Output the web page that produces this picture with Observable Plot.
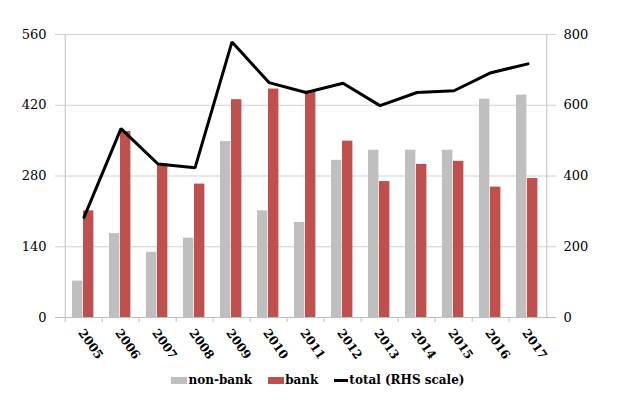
<!DOCTYPE html>
<html><head><meta charset="utf-8">
<script src="https://cdn.jsdelivr.net/npm/d3@7"></script>
<script src="https://cdn.jsdelivr.net/npm/@observablehq/plot@0.6"></script>
<style>
body{margin:0;background:#fff;font-family:"DejaVu Serif",serif;}
#legend{height:30px;display:flex;justify-content:center;align-items:center;font-weight:bold;font-size:12px;color:#000;padding-left:12px;width:612px;}
.item{display:inline-flex;align-items:center;margin:0 8px;}
.sw{display:inline-block;width:16px;height:7px;margin-right:1px;}
.ln{display:inline-block;width:14px;height:3px;background:#000;margin-right:1px;}
</style></head><body>
<div id="chart"></div>
<div id="legend">
  <span class="item"><span class="sw" style="background:#bfbfbf"></span>non-bank</span>
  <span class="item"><span class="sw" style="background:#c0504d"></span>bank</span>
  <span class="item"><span class="ln"></span>total (RHS scale)</span>
</div>
<script>
const years = ["2005","2006","2007","2008","2009","2010","2011","2012","2013","2014","2015","2016","2017"];
const nonBank = [72,166,129,157,348,211,188,311,331,331,331,432,440];
const bank = [211,368,304,264,431,452,448,349,269,303,309,258,275];
const total = [283,534,434,423,779,664,636,662,599,636,641,692,717];
const leftTicks = [0,140,280,420,560];
const rightTicks = [0,200,400,600,800];
const leftMax = 560, rightMax = 800;
const ratio = leftMax / rightMax;

const W = 624, H = 365;
const mL = 61, mR = 74, mT = 34, mB = 48;
const bw = (W - mL - mR) / years.length;
const grey = "#bfbfbf";
const serif = "DejaVu Serif";

const chart = Plot.plot({
  width: W, height: H,
  marginLeft: mL, marginRight: mR, marginTop: mT, marginBottom: mB,
  style: {fontFamily: serif, fontSize: "13px", color: "#000", background: "#fff"},
  x: {type: "band", domain: years, padding: 0},
  y: {domain: [0, leftMax]},
  marks: [
    Plot.ruleY(leftTicks.slice(1), {stroke: "#d0d0d0", strokeWidth: 1, insetLeft: -6, insetRight: -6}),
    Plot.ruleY([0], {stroke: grey, strokeWidth: 1, insetLeft: -6, insetRight: -6}),
    Plot.ruleX([years[0]], {y1: 0, y2: leftMax, stroke: grey, dx: -bw / 2}),
    Plot.ruleX([years[years.length - 1]], {y1: 0, y2: leftMax, stroke: grey, dx: bw / 2}),
    Plot.ruleX(years, {y1: 0, y2: 0, insetBottom: -5, stroke: grey, dx: -bw / 2}),
    Plot.barY(years, {x: d => d, y: (d, i) => nonBank[i], fill: "#bfbfbf", insetLeft: 7, insetRight: bw - 18}),
    Plot.barY(years, {x: d => d, y: (d, i) => bank[i], fill: "#c0504d", insetLeft: 18, insetRight: bw - 29}),
    Plot.line(years, {x: d => d, y: (d, i) => total[i] * ratio, stroke: "#000", strokeWidth: 3, strokeLinejoin: "miter"}),
    Plot.axisY(leftTicks, {anchor: "left", tickSize: 0, tickPadding: 15, label: null, fontFamily: serif}),
    Plot.axisY(rightTicks.map(v => v * ratio), {anchor: "right", tickSize: 0, tickPadding: 13, label: null, fontFamily: serif, tickFormat: v => String(Math.round(v / ratio))}),
    Plot.axisX(years, {anchor: "bottom", tickSize: 0, tickPadding: 13, dx: -3, tickRotate: 55, fontSize: 12, fontWeight: "bold", fontFamily: serif, label: null})
  ]
});
document.getElementById("chart").appendChild(chart);
</script>
</body></html>
